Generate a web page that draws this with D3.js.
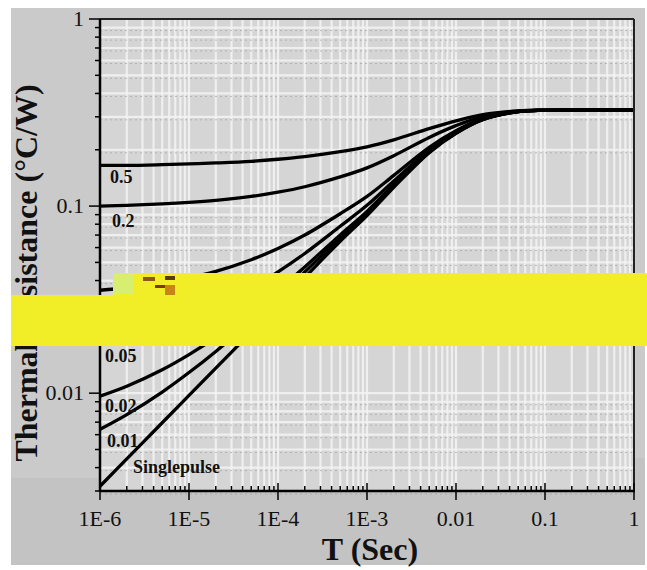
<!DOCTYPE html>
<html>
<head>
<meta charset="utf-8">
<script src="https://cdn.jsdelivr.net/npm/d3@7"></script>
<style>
  html, body { margin: 0; padding: 0; background: #ffffff; }
  svg { display: block; }
  text { font-family: "Liberation Serif", "Times New Roman", serif; fill: #111; }
</style>
</head>
<body>
<svg id="chart" width="647" height="570"></svg>
<script>
// ---- data ----
const times = [1e-6, 2e-6, 5e-6, 1e-5, 2e-5, 5e-5, 1e-4, 2e-4, 5e-4, 1e-3, 2e-3, 5e-3, 1e-2, 2e-2, 5e-2, 0.1, 0.2, 0.5, 1];
const seriesNames = ["0.5", "0.2", "0.1", "0.05", "0.02", "0.01", "Singlepulse"];
const d05   = [0.165, 0.165, 0.1665, 0.168, 0.170, 0.1735, 0.178, 0.184, 0.1955, 0.2075, 0.226, 0.2595, 0.2855, 0.308, 0.323, 0.3255, 0.326, 0.326, 0.326];
const d02   = [0.100, 0.101, 0.1027, 0.1046, 0.1073, 0.1126, 0.1186, 0.1269, 0.1432, 0.1601, 0.186, 0.2329, 0.2693, 0.3008, 0.3218, 0.3253, 0.326, 0.326, 0.326];
const d01   = [0.0355, 0.0366, 0.0389, 0.0414, 0.0448, 0.0517, 0.0593, 0.070, 0.091, 0.1127, 0.146, 0.2063, 0.2531, 0.2936, 0.3206, 0.3251, 0.326, 0.326, 0.326];
const d005  = [0.0193, 0.0205, 0.0229, 0.0255, 0.0292, 0.0364, 0.0445, 0.0558, 0.078, 0.1009, 0.136, 0.1997, 0.2491, 0.2918, 0.3203, 0.3251, 0.326, 0.326, 0.326];
const d002  = [0.00964, 0.01089, 0.01333, 0.01606, 0.01985, 0.0273, 0.03563, 0.04729, 0.07012, 0.0937, 0.130, 0.1957, 0.2466, 0.2907, 0.3201, 0.325, 0.326, 0.326, 0.326];
const d001  = [0.00641, 0.00768, 0.01014, 0.01289, 0.01672, 0.02425, 0.03266, 0.04444, 0.06751, 0.0914, 0.128, 0.1943, 0.2458, 0.2904, 0.3201, 0.325, 0.326, 0.326, 0.326];
const single = [0.00318, 0.00446, 0.00695, 0.00973, 0.0136, 0.0212, 0.0297, 0.0416, 0.0649, 0.089, 0.126, 0.193, 0.245, 0.290, 0.320, 0.325, 0.326, 0.326, 0.326];
const xTickValues = [1e-6, 1e-5, 1e-4, 1e-3, 1e-2, 0.1, 1];
const xTickLabels = ["1E-6", "1E-5", "1E-4", "1E-3", "0.01", "0.1", "1"];
const yTickValues = [0.01, 0.1, 1];
const yTickLabels = ["0.01", "0.1", "1"];
const xTitle = "T (Sec)";
const yTitle = "Thermal Resistance (°C/W)";

// ---- layout ----
const svg = d3.select("#chart");
const L = 100, R = 634, T = 19, B = 491;
const x = d3.scaleLog().domain([1e-6, 1]).range([L, R]);
const y = d3.scaleLog().domain([0.003, 1]).range([B, T]);

// page background
svg.append("rect").attr("x", 11).attr("y", 8).attr("width", 634).attr("height", 557).attr("fill", "#cacaca");
svg.append("rect").attr("x", 11).attr("y", 478).attr("width", 634).attr("height", 87).attr("fill", "#c3c3c3");
svg.append("rect").attr("x", 634).attr("y", 458).attr("width", 11).attr("height", 20).attr("fill", "#c3c3c3");

// plot area
svg.append("rect").attr("x", L).attr("y", T).attr("width", R - L).attr("height", B - T).attr("fill", "#d5d5d5");

// minor values
const xMinor = [], yMinor = [];
for (let e = -6; e < 0; e++) for (let m = 2; m <= 9; m++) xMinor.push(m * Math.pow(10, e));
for (let e = -3; e < 0; e++) for (let m = 2; m <= 9; m++) {
  const v = m * Math.pow(10, e);
  if (v >= 0.003 && v < 1) yMinor.push(v);
}

// light texture grid
const grid = svg.append("g");
grid.selectAll("line.gx").data(xMinor.concat(xTickValues)).join("line")
  .attr("x1", d => x(d)).attr("x2", d => x(d)).attr("y1", T).attr("y2", B)
  .attr("stroke", "#f4f4f4").attr("stroke-width", 2.2).attr("opacity", 0.85);
grid.selectAll("line.gy").data(yMinor.concat(yTickValues)).join("line")
  .attr("x1", L).attr("x2", R).attr("y1", d => y(d)).attr("y2", d => y(d))
  .attr("stroke", "#f4f4f4").attr("stroke-width", 2.2).attr("opacity", 0.85);
grid.selectAll("line.gy2").data(yMinor).join("line")
  .attr("x1", L).attr("x2", R).attr("y1", d => y(d) + 3).attr("y2", d => y(d) + 3)
  .attr("stroke", "#9a9a9a").attr("stroke-width", 1).attr("stroke-dasharray", "2,3").attr("opacity", 0.6);

// curves
const allSeries = [d05, d02, d01, d005, d002, d001, single];
const line = d3.line().x((d, i) => x(times[i])).y(d => y(d)).curve(d3.curveCatmullRom.alpha(0.5));
svg.append("g").selectAll("path").data(allSeries).join("path")
  .attr("d", line).attr("fill", "none").attr("stroke", "#000").attr("stroke-width", 3.3);

// series labels
const labelPos = [[110, 183], [112, 227], [110, 308], [105, 362], [105, 412], [107, 447], [133, 473]];
svg.append("g").selectAll("text").data(seriesNames).join("text")
  .attr("x", (d, i) => labelPos[i][0]).attr("y", (d, i) => labelPos[i][1])
  .attr("font-size", 18).attr("font-weight", "bold").text(d => d);

// frame
svg.append("line").attr("x1", L).attr("x2", R).attr("y1", T).attr("y2", T).attr("stroke", "#222").attr("stroke-width", 2);
svg.append("line").attr("x1", R).attr("x2", R).attr("y1", T).attr("y2", B).attr("stroke", "#222").attr("stroke-width", 2);

// x axis
const xAxis = svg.append("g").attr("transform", `translate(0,${B})`);
xAxis.append("line").attr("x1", L).attr("x2", R + 1).attr("stroke", "#000").attr("stroke-width", 2.5);
xAxis.selectAll("line.mi").data(xMinor).join("line").attr("class", "mi")
  .attr("x1", d => x(d)).attr("x2", d => x(d)).attr("y1", 0).attr("y2", -5).attr("stroke", "#000").attr("stroke-width", 1.5);
xAxis.selectAll("line.ma").data(xTickValues).join("line").attr("class", "ma")
  .attr("x1", d => x(d)).attr("x2", d => x(d)).attr("y1", -8).attr("y2", 9).attr("stroke", "#000").attr("stroke-width", 1.5);
xAxis.selectAll("text").data(xTickValues).join("text")
  .attr("x", d => x(d)).attr("y", 35).attr("text-anchor", "middle").attr("font-size", 22)
  .text((d, i) => xTickLabels[i]);

// y axis
const yAxis = svg.append("g").attr("transform", `translate(${L},0)`);
yAxis.append("line").attr("y1", T).attr("y2", B + 1).attr("stroke", "#000").attr("stroke-width", 2.5);
yAxis.selectAll("line.mi").data(yMinor).join("line").attr("class", "mi")
  .attr("y1", d => y(d)).attr("y2", d => y(d)).attr("x1", 0).attr("x2", -5).attr("stroke", "#000").attr("stroke-width", 1.5);
yAxis.selectAll("line.ma").data(yTickValues).join("line").attr("class", "ma")
  .attr("y1", d => y(d)).attr("y2", d => y(d)).attr("x1", 0).attr("x2", -11).attr("stroke", "#000").attr("stroke-width", 1.5);
yAxis.selectAll("text").data(yTickValues).join("text")
  .attr("x", -16).attr("y", d => y(d) + 7).attr("text-anchor", "end").attr("font-size", 22)
  .text((d, i) => yTickLabels[i]);

// titles
svg.append("text").attr("x", 370).attr("y", 560).attr("text-anchor", "middle")
  .attr("font-size", 32).attr("font-weight", "bold").text(xTitle);
svg.append("text").attr("transform", "translate(37,273) rotate(-90)").attr("text-anchor", "middle")
  .attr("font-size", 32).attr("font-weight", "bold").text(yTitle);

// yellow occluding band
svg.append("rect").attr("x", 11).attr("y", 295).attr("width", 636).attr("height", 51).attr("fill", "#f1ed26");
svg.append("rect").attr("x", 113).attr("y", 273).attr("width", 534).attr("height", 23).attr("fill", "#f1ed26");
const blocks = [[113, 274, 20, 20, "#d8ee70"], [143, 277, 12, 4, "#8a5a10"], [165, 276, 10, 4, "#5a3a08"], [155, 285, 10, 3, "#7a3a08"], [165, 285, 10, 10, "#c88418"]];
svg.append("g").selectAll("rect").data(blocks).join("rect")
  .attr("x", d => d[0]).attr("y", d => d[1]).attr("width", d => d[2]).attr("height", d => d[3]).attr("fill", d => d[4]);
</script>
</body>
</html>
